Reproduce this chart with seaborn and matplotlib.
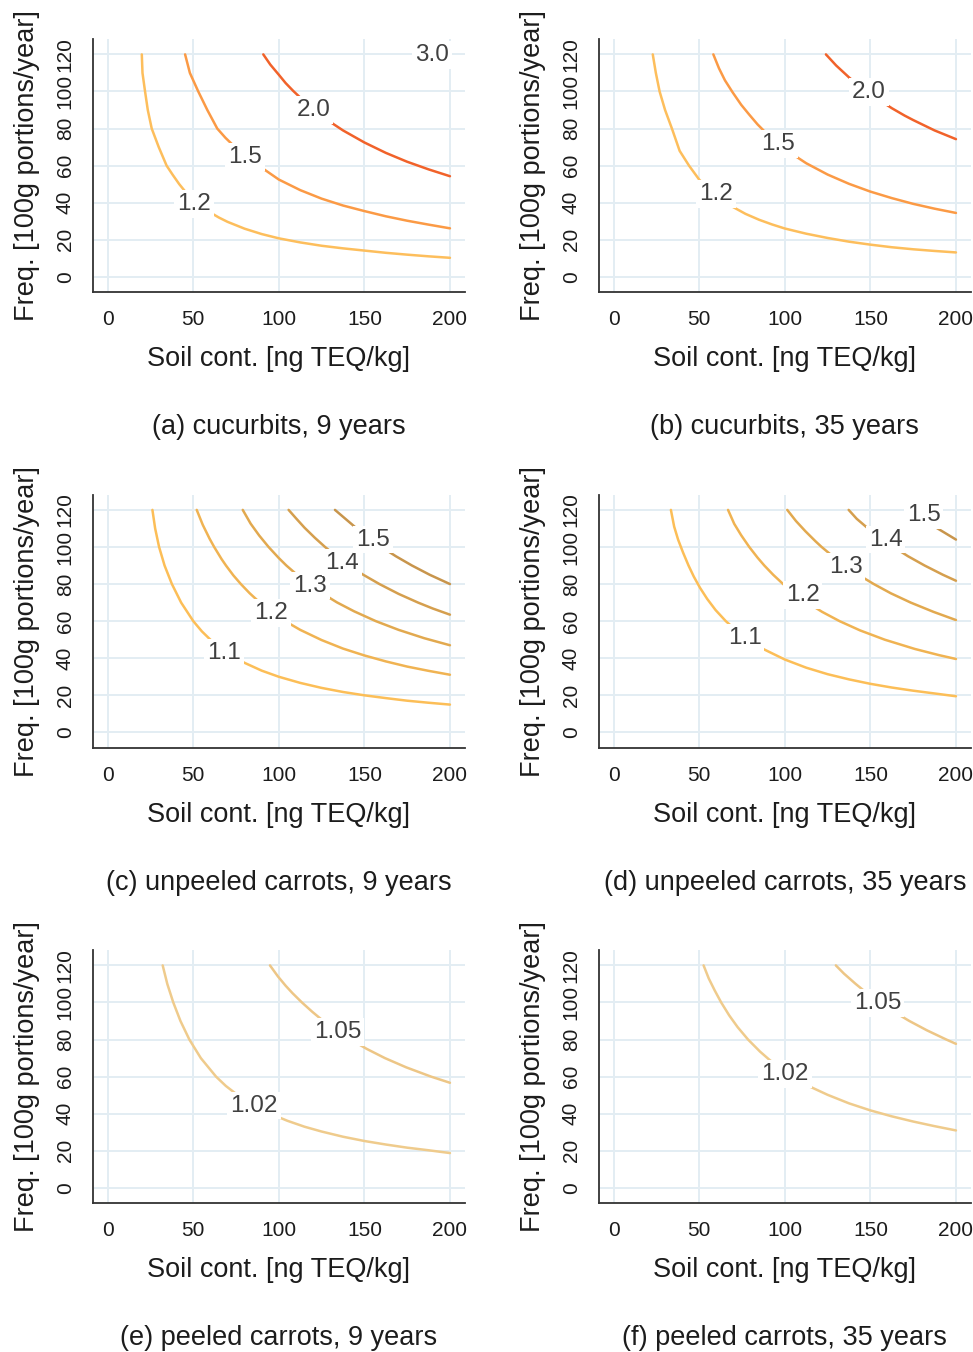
import pandas as pd
import seaborn as sns
import matplotlib.pyplot as plt

# (a) cucurbits, 9 years
A_LEVELS = ["1.2", "1.5", "2.0", "3.0"]
A_SOIL = [
    [19.9, 20.3, 21.8, 23.4, 25.7, 29.8, 34.4, 38, 41.8, 46.2, 52, 59.4, 65, 70,
     80, 90, 100, 112.5, 125, 137.5, 150, 162.5, 175, 187.5, 200],
    [45.2, 48, 52.9, 58.2, 64, 68.8, 74.4, 81.5, 90.9, 100, 112.5, 125, 137.5,
     150, 162.5, 175, 187.5, 200],
    [90.9, 95, 100, 104, 108.4, 114, 120, 125, 130.8, 137.5, 150, 162.5, 175,
     187.5, 200],
    [188, 194, 200],
]
A_FREQ = [
    [120, 110, 100, 90, 80, 70, 60, 55, 50, 45, 40, 35, 32, 29.7,
     26, 23.1, 20.8, 18.6, 16.8, 15.4, 14.2, 13, 12, 11.1, 10.3],
    [120, 110, 100, 90, 80, 75, 70, 64, 58.3, 52.5, 46.8, 42.2, 38.5,
     35.5, 32.7, 30.3, 28.2, 26.2],
    [120, 114.5, 109, 104.5, 100.3, 95.4, 90.6, 87, 83.1, 79, 72.5, 66.9, 62.1,
     58, 54.3],
    [120, 117.6, 115.2],
]
A_LABEL_XY = [(50.4, 39.2), (80.2, 64.7), (120.3, 90.2), (189.4, 119.8)]

# (b) cucurbits, 35 years
B_LEVELS = ["1.2", "1.5", "2.0"]
B_SOIL = [
    [22.8, 24.6, 26.8, 30, 34, 38.5, 44, 50, 56, 62, 69.5, 77, 85, 92.5, 100,
     112.5, 125, 137.5, 150, 162.5, 175, 187.5, 200],
    [58.2, 61.5, 65, 69.5, 74.5, 79.2, 84, 90, 96, 103.6, 112.5, 125, 137.5,
     150, 162.5, 175, 187.5, 200],
    [124, 130, 137.5, 143.5, 150, 156, 162.5, 170, 175, 187.5, 200],
]
B_FREQ = [
    [120, 110, 100, 90, 80, 68, 60, 52.4, 46.8, 42.3, 37.8, 34, 30.8, 28.3, 26.1,
     23.3, 21, 19, 17.4, 16, 14.9, 14, 13.2],
    [120, 112.5, 106, 99.5, 92.8, 87.5, 82.3, 76.7, 72, 66.7, 61.3, 55.2, 50.2,
     46, 42.5, 39.4, 36.8, 34.5],
    [120, 114, 107.6, 103, 98.7, 94.9, 91, 87, 84.6, 79, 74.3],
]
B_LABEL_XY = [(59.8, 44.5), (96.0, 71.6), (149.1, 99.7)]

# (c) unpeeled carrots, 9 years
C_LEVELS = ["1.1", "1.2", "1.3", "1.4", "1.5"]
C_SOIL = [
    [26.1, 27.7, 30, 33.2, 37.5, 42.9, 50, 55, 60, 66, 72, 80, 90, 100, 112.5,
     125, 137.5, 150, 162.5, 175, 187.5, 200],
    [52, 55.5, 59.5, 62.2, 66.5, 69.1, 73.4, 77.8, 83, 88.9, 95.7, 103.7, 112.5,
     125, 137.5, 150, 162.5, 175, 187.5, 200],
    [78.9, 83.5, 88.5, 94, 99.9, 104.4, 110, 117.5, 125, 134, 144, 156.7, 170,
     185, 200],
    [105.7, 110, 115, 121, 127, 134, 141, 149, 158.8, 170, 181.4, 190, 200],
    [132.8, 138, 145.5, 152.4, 160, 168.4, 177.8, 188.2, 200],
]
C_FREQ = [
    [120, 110, 100, 90, 80, 70, 60, 54.5, 50, 45.5, 41.7, 37.5, 33.3, 30, 26.7,
     24, 21.8, 20, 18.5, 17.1, 16, 15],
    [120, 112, 104.5, 100, 93.5, 90, 84.7, 80, 75, 70, 65, 60, 55.3,
     49.8, 45.2, 41.5, 38.3, 35.5, 33.2, 31.1],
    [120, 112.6, 106.2, 100, 94.1, 90, 85.5, 80, 75.2, 70.1, 65.3, 60, 55.3,
     50.8, 47],
    [120, 115.5, 110.4, 105, 100, 94.8, 90, 85.2, 80, 74.7, 70, 66.8, 63.5],
    [120, 115.9, 110, 105, 100, 95, 90, 85, 80],
]
C_LABEL_XY = [(68.0, 43.0), (95.4, 64.6), (118.2, 79.2), (136.9, 91.6), (155.0, 104.0)]

# (d) unpeeled carrots, 35 years
D_LEVELS = ["1.1", "1.2", "1.3", "1.4", "1.5"]
D_SOIL = [
    [33.4, 35.3, 37.6, 40.5, 43.7, 46.8, 50.4, 54.6, 59.5, 65.5, 72.8, 80, 88,
     100, 112.5, 125, 137.5, 150, 162.5, 175, 187.5, 200],
    [66.8, 70.4, 74.5, 79.2, 84, 88, 93.2, 99, 105.6, 113.1, 121.8, 132, 144,
     158.4, 176, 190, 200],
    [101.4, 106.5, 112, 118, 121.5, 128, 135, 143, 152, 162, 173.6, 186.9, 200],
    [137.3, 142, 148.6, 155.7, 163.5, 172, 181.7, 192.4, 200],
    [173, 180, 187.8, 200],
]
D_FREQ = [
    [120, 111, 104, 97, 90, 84, 78, 72, 66, 60, 54, 49.1, 44.7,
     39.3, 34.9, 31.4, 28.6, 26.2, 24.2, 22.5, 21, 19.5],
    [120, 112.5, 106.3, 100, 94.3, 90, 85, 80, 75, 70, 65, 60, 55,
     50, 45, 41.7, 39.6],
    [120, 114, 108.5, 103, 100, 95, 90, 85, 80, 75, 70, 65, 60.6],
    [120, 115.2, 110, 105, 100, 95, 90, 85, 81.8],
    [120, 115.6, 110.8, 104],
]
D_LABEL_XY = [(76.5, 51.1), (110.4, 74.3), (135.5, 89.4), (158.9, 104.0), (181.1, 117.0)]

# (e) peeled carrots, 9 years
E_LEVELS = ["1.02", "1.05"]
E_SOIL = [
    [32.1, 34.8, 38.3, 42.5, 47.7, 54.4, 63.3, 69, 76, 84.4, 95, 105, 115, 125,
     137.5, 150, 162.5, 175, 187.5, 200],
    [94.8, 99.5, 104, 108, 113.5, 119.5, 126, 133.5, 142, 151.3, 162, 174.5,
     189, 200],
]
E_FREQ = [
    [120, 110, 100, 90, 80, 70, 60, 55, 50, 45, 40, 36.2, 33, 30.4,
     27.6, 25.3, 23.4, 21.7, 20.3, 18.8],
    [120, 114, 109, 105, 100, 95, 90, 85, 80, 75, 70, 65, 60, 56.7],
]
E_LABEL_XY = [(85.5, 44.4), (134.5, 84.3)]

# (f) peeled carrots, 35 years
F_LEVELS = ["1.02", "1.05"]
F_SOIL = [
    [52.5, 55.5, 59, 62.8, 67.5, 72.4, 78.5, 85.5, 91.1, 98, 105, 112.6, 125,
     137.5, 150, 162.5, 175, 187.5, 200],
    [129.8, 134.5, 141.4, 148, 155.5, 163.7, 172.8, 183, 194.4, 200],
]
F_FREQ = [
    [120, 113, 106.5, 100, 93, 86.7, 80, 73.5, 69, 64, 59.7, 55.5, 50.2,
     45.6, 41.8, 38.6, 35.8, 33.3, 31],
    [120, 115.6, 110, 105, 100, 95, 90, 85, 80, 77.7],
]
F_LABEL_XY = [(100.1, 61.3), (154.3, 99.5)]

TITLES = [
    "(a) cucurbits, 9 years", "(b) cucurbits, 35 years",
    "(c) unpeeled carrots, 9 years", "(d) unpeeled carrots, 35 years",
    "(e) peeled carrots, 9 years", "(f) peeled carrots, 35 years",
]

CUC_COLORS = {"1.2": "#fdbe5c", "1.5": "#fb9a45", "2.0": "#f1622a", "3.0": "#e8441c"}
CAR_COLORS = {"1.1": "#fcbe57", "1.2": "#f0b352", "1.3": "#e2a94f",
              "1.4": "#d59f4e", "1.5": "#c8954c"}
PEEL_COLORS = {"1.02": "#efcb8c", "1.05": "#edc686"}

GRID = "#e3edf3"
INK = "#1c1c1c"


def draw_panel(ax, levels, soil, freq, label_xy, colors, title):
    rows = []
    for lev, xs, ys in zip(levels, soil, freq):
        for x, y in zip(xs, ys):
            rows.append({"soil": x, "freq": y, "level": lev})
    df = pd.DataFrame(rows)

    sns.lineplot(data=df, x="soil", y="freq", hue="level", palette=colors,
                 hue_order=levels, sort=False, estimator=None, legend=False,
                 linewidth=1.8, ax=ax, zorder=3)

    # contour labels sit on a white box that hides the line underneath
    for lev, (lx, ly) in zip(levels, label_xy):
        ax.text(lx, ly, lev, ha="center", va="center", fontsize=17.5,
                color="#404040", zorder=5,
                bbox=dict(boxstyle="square,pad=0.12", fc="white", ec="none"))

    ax.set_xlim(-8.8, 208.8)
    ax.set_ylim(-8.3, 128.3)
    ax.set_xticks([0, 50, 100, 150, 200])
    ax.set_yticks([0, 20, 40, 60, 80, 100, 120])
    ax.grid(True, color=GRID, linewidth=1.4, zorder=0)
    ax.set_axisbelow(True)
    for side in ["top", "right"]:
        ax.spines[side].set_visible(False)
    for side in ["left", "bottom"]:
        ax.spines[side].set_color("#333333")
        ax.spines[side].set_linewidth(1.3)
    ax.tick_params(axis="both", direction="out", length=8, width=1.2,
                   color="#333333", labelsize=15, labelcolor=INK, pad=5)
    for lab in ax.get_yticklabels():
        lab.set_rotation(90)
        lab.set_va("center")
    ax.set_xlabel("Soil cont. [ng TEQ/kg]", fontsize=19.5, color=INK, labelpad=12)
    ax.set_ylabel("Freq. [100g portions/year]", fontsize=19.5, color=INK, labelpad=11)
    ax.text(0.5, -0.532, title, transform=ax.transAxes, ha="center",
            va="center", fontsize=19.5, color=INK)


sns.set_theme(style="white")
plt.rcParams["font.family"] = ["Liberation Sans", "DejaVu Sans"]

W, H = 973, 1352
fig = plt.figure(figsize=(W / 100, H / 100), dpi=100)

col_left = [92.7, 598.7]
row_top = [39, 494.5, 950]
ax_w, ax_h = 372.3, 253.3

panels = [
    (A_LEVELS, A_SOIL, A_FREQ, A_LABEL_XY, CUC_COLORS),
    (B_LEVELS, B_SOIL, B_FREQ, B_LABEL_XY, CUC_COLORS),
    (C_LEVELS, C_SOIL, C_FREQ, C_LABEL_XY, CAR_COLORS),
    (D_LEVELS, D_SOIL, D_FREQ, D_LABEL_XY, CAR_COLORS),
    (E_LEVELS, E_SOIL, E_FREQ, E_LABEL_XY, PEEL_COLORS),
    (F_LEVELS, F_SOIL, F_FREQ, F_LABEL_XY, PEEL_COLORS),
]

for i, (levels, soil, freq, label_xy, colors) in enumerate(panels):
    r, c = divmod(i, 2)
    left = col_left[c] / W
    bottom = 1 - (row_top[r] + ax_h) / H
    ax = fig.add_axes([left, bottom, ax_w / W, ax_h / H])
    draw_panel(ax, levels, soil, freq, label_xy, colors, TITLES[i])

fig.savefig("out.png", dpi=100, facecolor="white")
